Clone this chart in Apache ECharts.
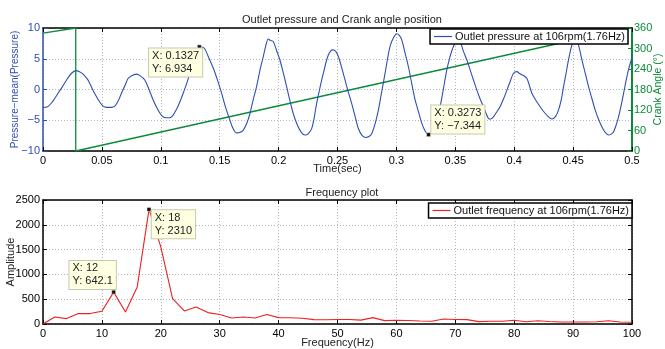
<!DOCTYPE html>
<html><head><meta charset="utf-8">
<script src="https://cdn.jsdelivr.net/npm/echarts@6/dist/echarts.min.js"></script>
<style>html,body{margin:0;padding:0;background:#fff}#c{width:665px;height:349px}</style>
</head><body><div id="c"></div>
<script>
// ---- data ----
const pressureT = [0.000,0.004,0.008,0.0128,0.016,0.020,0.024,0.0278,0.031,0.034,0.038,0.041,0.044,0.048,0.051,0.054,0.058,0.061,0.064,0.0666,0.0695,0.0722,0.075,0.079,0.082,0.0864,0.090,0.0935,0.097,0.1006,0.104,0.1077,0.110,0.113,0.116,0.119,0.122,0.1247,0.127,0.129,0.131,0.1327,0.135,0.137,0.140,0.1445,0.148,0.1516,0.155,0.1587,0.161,0.1643,0.167,0.170,0.173,0.1757,0.178,0.1813,0.184,0.187,0.189,0.1912,0.193,0.1955,0.198,0.2011,0.204,0.2068,0.2096,0.2124,0.216,0.2196,0.2224,0.225,0.228,0.230,0.2323,0.235,0.238,0.2422,0.246,0.2485,0.2507,0.2535,0.2564,0.259,0.262,0.265,0.2677,0.271,0.2742,0.277,0.279,0.282,0.2847,0.2875,0.2904,0.2925,0.2946,0.2975,0.3003,0.3025,0.3045,0.307,0.3102,0.313,0.3159,0.319,0.3216,0.324,0.3273,0.331,0.334,0.3371,0.340,0.3428,0.3455,0.3484,0.3527,0.3569,0.3598,0.3626,0.3655,0.3683,0.371,0.3739,0.3781,0.380,0.3824,0.385,0.388,0.391,0.3938,0.3966,0.3994,0.4023,0.4045,0.4065,0.4085,0.4108,0.413,0.415,0.4185,0.422,0.4255,0.4291,0.432,0.435,0.4376,0.440,0.4419,0.444,0.4461,0.449,0.4518,0.4545,0.4575,0.4605,0.4631,0.466,0.4688,0.4715,0.4745,0.477,0.4801,0.482,0.4843,0.4865,0.4886,0.4908,0.4929,0.495,0.497,0.500];
const pressureP = [-2.9,-2.8,-2.0,-0.6,0.3,1.55,2.6,3.07,2.9,2.5,1.6,0.46,-0.7,-2.0,-2.7,-2.9,-2.9,-2.7,-1.8,-0.6,0.6,1.8,2.2,2.5,2.3,1.55,0.0,-1.7,-3.1,-4.2,-4.6,-4.6,-4.3,-3.35,-2.1,-0.6,1.0,2.65,4.0,5.36,6.4,6.934,6.9,6.7,5.5,3.5,1.6,-0.6,-2.9,-5.0,-6.2,-7.06,-7.0,-6.6,-5.5,-3.9,-2.0,0.46,3.0,5.36,7.0,8.2,8.0,7.8,6.5,4.8,2.7,0.46,-1.8,-3.9,-5.8,-7.06,-7.4,-7.2,-6.4,-4.8,-2.25,0.2,2.65,5.6,6.45,6.2,5.36,3.6,1.55,-0.3,-2.25,-4.4,-6.34,-7.5,-7.8,-7.6,-7.2,-5.5,-3.35,-0.4,2.65,5.0,7.0,8.4,9.07,8.8,8.1,6.2,3.7,1.0,-1.7,-3.8,-5.5,-6.6,-7.344,-6.8,-5.0,-2.8,0.2,3.2,5.3,7.0,8.3,6.2,4.8,3.2,1.5,-0.1,-1.5,-2.8,-4.7,-4.8,-4.45,-3.7,-2.8,-1.5,-0.1,1.3,2.65,2.9,2.6,2.4,2.2,1.8,0.6,-0.6,-1.8,-2.8,-3.7,-4.45,-4.8,-4.4,-3.35,-1.6,0.46,2.6,4.8,7.27,8.5,7.3,4.8,2.5,0.46,-1.5,-3.35,-4.8,-6.1,-6.9,-7.4,-7.3,-6.9,-5.8,-4.45,-2.6,-0.6,1.5,3.2,5.2];
const crankT = [0, 0.0278, 0.0278, 0.4965];
const crankDeg = [345, 360, 0, 360];
const freqHz = [0,2,4,6,8,10,12,14,16,18,20,22,24,26,28,30,32,34,36,38,40,42,44,46,48,50,52,54,56,58,60,62,64,66,68,70,72,74,76,78,80,82,84,86,88,90,92,94,96,98,100];
const freqAmp = [0,141,109,210,210,257,642.1,243,748,2310,1556,513,263,344,230,190,121,141,121,190,129,125,115,89,85,92,90,78,129,68,75,70,60,55,101,90,89,48,55,55,75,45,65,50,40,40,40,45,65,40,34];
const pressureTips = [[0.1327, 6.934], [0.3273, -7.344]];
const freqTips = [[18, 2310], [12, 642.1]];
const timeTicks = {min: 0, max: 0.5, interval: 0.05};
const freqTicks = {min: 0, max: 100, interval: 10};

// ---- styles ----
const FONT = 'Liberation Sans, Arial, sans-serif';
const BLUE = '#2f4fb0', GREEN = '#0b8a3a', RED = '#ee2020';
const minus = v => String(v).replace('-', '\u2212');
const tipLabel = (pos) => ({
  show: true, position: pos, align: 'left', verticalAlign: 'top',
  formatter: p => 'X: ' + minus(p.data.coord[0]) + '\nY: ' + minus(p.data.coord[1]),
  fontFamily: FONT, fontSize: 11, color: '#222', lineHeight: 13,
  backgroundColor: '#ffffe1', borderColor: '#c8c8b0', borderWidth: 1, padding: [1, 3, 1, 3]
});
const tickLab = (c, m) => ({fontFamily: FONT, fontSize: 11, color: c, margin: m || 4, formatter: minus});
const dotted = (c) => ({show: true, lineStyle: {type: [1, 2], color: c, width: 1}});
const gridBase = {left: 43, right: 33, containLabel: false, outerBoundsMode: 'none'};
const nameStyle = (c, s) => ({fontFamily: FONT, fontSize: s || 11, color: c});

const chart = echarts.init(document.getElementById('c'), null, {renderer: 'canvas'});
chart.setOption({
  animation: false,
  backgroundColor: '#fff',
  title: [
    {text: 'Outlet pressure and Crank angle position', left: 337, top: 9, textAlign: 'center',
     textStyle: {fontFamily: FONT, fontSize: 11, fontWeight: 'normal', color: '#222'}},
    {text: 'Frequency plot', left: 337, top: 182, textAlign: 'center',
     textStyle: {fontFamily: FONT, fontSize: 11, fontWeight: 'normal', color: '#222'}}
  ],
  grid: [
    {...gridBase, top: 28, height: 123},
    {...gridBase, top: 200, height: 124}
  ],
  legend: [
    {data: ['Outlet pressure at 106rpm(1.76Hz)'], right: 37, top: 29, icon: 'rect', itemWidth: 18, itemHeight: 1.2,
     itemGap: 4, padding: [2, 3, 2, 4], backgroundColor: '#fff', borderColor: '#000', borderWidth: 1.5,
     textStyle: {fontFamily: FONT, fontSize: 11, color: '#111', padding: [0, 0, 0, -2]}},
    {data: ['Outlet frequency at 106rpm(1.76Hz)'], right: 33, top: 203, icon: 'rect', itemWidth: 18, itemHeight: 1.2,
     itemGap: 4, padding: [2, 3, 2, 4], backgroundColor: '#fff', borderColor: '#000', borderWidth: 1.5,
     textStyle: {fontFamily: FONT, fontSize: 11, color: '#111', padding: [0, 0, 0, -2]}}
  ],
  xAxis: [
    {type: 'value', gridIndex: 0, ...timeTicks, position: 'bottom',
     name: 'Time(sec)', nameLocation: 'middle', nameGap: 12, nameMoveOverlap: false,
     nameTextStyle: nameStyle('#222'),
     axisLine: {onZero: false, lineStyle: {color: '#000', width: 1.5}},
     axisTick: {inside: true, length: 4, lineStyle: {color: '#000'}},
     axisLabel: tickLab('#000'), splitLine: dotted('#b4b4b4')},
    {type: 'value', gridIndex: 0, ...timeTicks, position: 'top',
     axisLine: {onZero: false, lineStyle: {color: '#000', width: 1.5}},
     axisTick: {inside: true, length: 4, lineStyle: {color: '#000'}},
     axisLabel: {show: false}, splitLine: {show: false}},
    {type: 'value', gridIndex: 1, ...freqTicks, position: 'bottom',
     name: 'Frequency(Hz)', nameLocation: 'middle', nameGap: 13, nameMoveOverlap: false,
     nameTextStyle: nameStyle('#222'),
     axisLine: {onZero: false, lineStyle: {color: '#000', width: 1.5}},
     axisTick: {inside: true, length: 4, lineStyle: {color: '#000'}},
     axisLabel: tickLab('#000'), splitLine: dotted('#b4b4b4')},
    {type: 'value', gridIndex: 1, ...freqTicks, position: 'top',
     axisLine: {onZero: false, lineStyle: {color: '#000', width: 1.5}},
     axisTick: {inside: true, length: 4, lineStyle: {color: '#000'}},
     axisLabel: {show: false}, splitLine: {show: false}}
  ],
  yAxis: [
    {type: 'value', gridIndex: 0, min: -10, max: 10, interval: 5, position: 'left',
     name: 'Pressure\u2212mean(Pressure)', nameLocation: 'middle', nameGap: 23, nameMoveOverlap: false,
     nameTextStyle: nameStyle(BLUE, 10),
     axisLine: {show: true, onZero: false, lineStyle: {color: BLUE, width: 1.5}},
     axisTick: {show: true, inside: true, length: 4, lineStyle: {color: BLUE}},
     axisLabel: tickLab(BLUE, 3), splitLine: dotted('#a8b4d8')},
    {type: 'value', gridIndex: 0, min: 0, max: 360, interval: 60, position: 'right',
     name: 'Crank Angle (\u00b0)', nameLocation: 'middle', nameGap: 21, nameMoveOverlap: false,
     nameTextStyle: nameStyle(GREEN, 10.5),
     axisLine: {show: true, onZero: false, lineStyle: {color: GREEN, width: 2}},
     axisTick: {show: true, inside: true, length: 4, lineStyle: {color: GREEN}},
     axisLabel: tickLab(GREEN, 2), splitLine: {show: false}},
    {type: 'value', gridIndex: 1, min: 0, max: 2500, interval: 500, position: 'left',
     name: 'Amplitude', nameLocation: 'middle', nameGap: 27, nameMoveOverlap: false,
     nameTextStyle: nameStyle('#222'),
     axisLine: {show: true, onZero: false, lineStyle: {color: '#000', width: 1.5}},
     axisTick: {show: true, inside: true, length: 4, lineStyle: {color: '#000'}},
     axisLabel: tickLab('#000', 3), splitLine: dotted('#b4b4b4')},
    {type: 'value', gridIndex: 1, min: 0, max: 2500, interval: 500, position: 'right',
     axisLine: {show: true, onZero: false, lineStyle: {color: '#000', width: 1.5}},
     axisTick: {show: true, inside: true, length: 4, lineStyle: {color: '#000'}},
     axisLabel: {show: false}, splitLine: {show: false}}
  ],
  series: [
    {name: 'Crank angle', type: 'line', xAxisIndex: 0, yAxisIndex: 1, showSymbol: false, symbol: 'none',
     data: crankT.map((t, i) => [t, crankDeg[i]]), lineStyle: {color: GREEN, width: 1.3}, itemStyle: {color: GREEN}, z: 2},
    {name: 'Outlet pressure at 106rpm(1.76Hz)', type: 'line', xAxisIndex: 0, yAxisIndex: 0, symbol: 'none', smooth: 0.3,
     data: pressureT.map((t, i) => [t, pressureP[i]]), lineStyle: {color: BLUE, width: 1.1}, itemStyle: {color: BLUE}, z: 3,
     markPoint: {symbol: 'rect', symbolSize: 4, itemStyle: {color: '#111', borderColor: '#ffffe1', borderWidth: 0.5},
       data: [
         {coord: pressureTips[0], label: tipLabel([-48, 4])},
         {coord: pressureTips[1], label: tipLabel([5, -27])}
       ]}},
    {name: 'Outlet frequency at 106rpm(1.76Hz)', type: 'line', xAxisIndex: 2, yAxisIndex: 2, symbol: 'none',
     data: freqHz.map((f, i) => [f, freqAmp[i]]), lineStyle: {color: RED, width: 1.1}, itemStyle: {color: RED}, z: 3,
     markPoint: {symbol: 'rect', symbolSize: 4, itemStyle: {color: '#111', borderColor: '#ffffe1', borderWidth: 0.5},
       data: [
         {coord: freqTips[0], label: tipLabel([5, 3])},
         {coord: freqTips[1], label: tipLabel([-42, -29])}
       ]}}
  ]
});
</script></body></html>
